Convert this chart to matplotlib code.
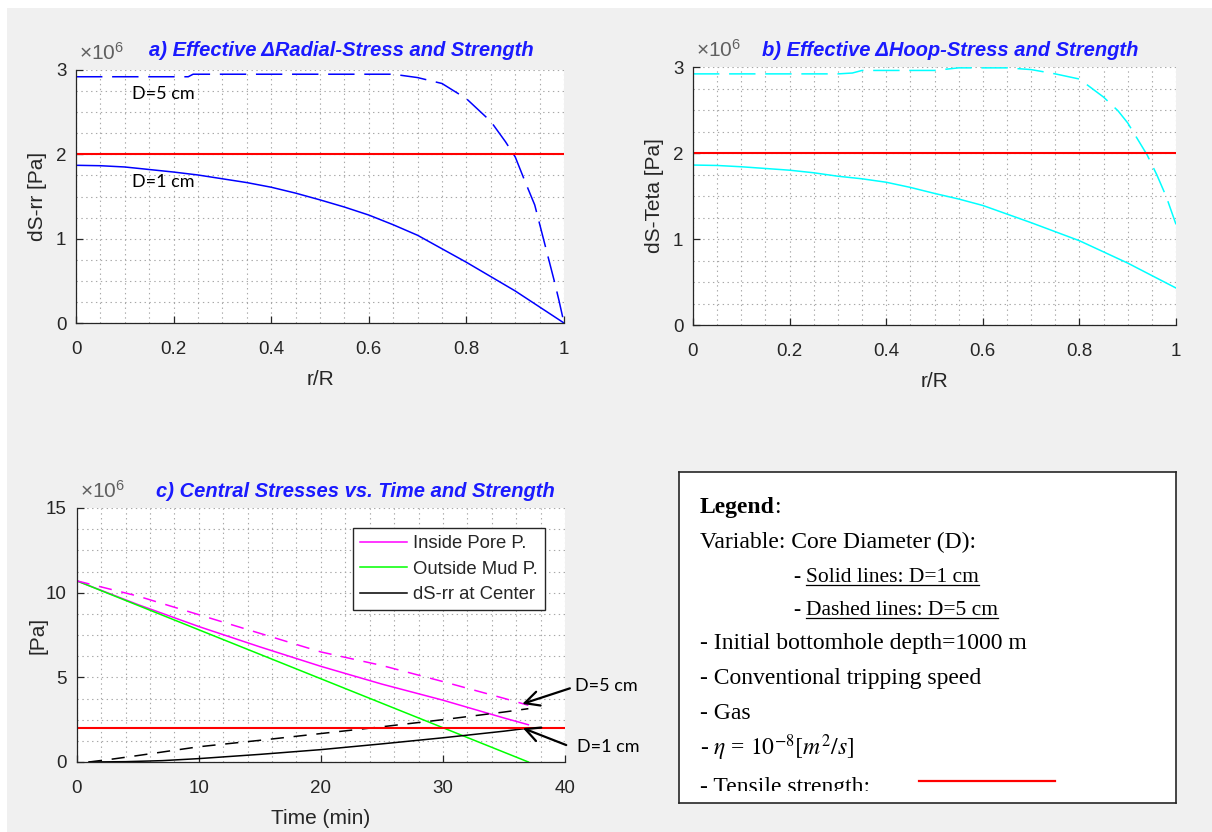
"""Core stress plots: radial/hoop effective stress vs r/R and central stresses vs time."""

import matplotlib
matplotlib.use("Agg")
import matplotlib.pyplot as plt
from matplotlib.lines import Line2D
from matplotlib.patches import Rectangle
from matplotlib.ticker import MultipleLocator

plt.rcParams["font.family"] = ["Liberation Sans", "DejaVu Sans"]
plt.rcParams["mathtext.fontset"] = "custom"
plt.rcParams["mathtext.rm"] = "Liberation Sans"
plt.rcParams["mathtext.it"] = "Liberation Sans:italic"
plt.rcParams["lines.scale_dashes"] = False

# --- data (stress values in units of 1e6 Pa) ---
r_1cm_rr = [0.0, 0.05, 0.1, 0.15, 0.2, 0.25, 0.3, 0.35, 0.4, 0.45, 0.5, 0.55,
            0.6, 0.65, 0.7, 0.75, 0.8, 0.85, 0.9, 0.95, 1.0]
srr_1cm = [1.87, 1.865, 1.85, 1.82, 1.79, 1.755, 1.71, 1.665, 1.61, 1.54, 1.46, 1.375,
           1.28, 1.165, 1.04, 0.88, 0.72, 0.55, 0.38, 0.19, 0.0]
r_5cm_rr = [0.0, 0.1, 0.2, 0.23, 0.24, 0.4, 0.5, 0.6, 0.65, 0.7, 0.75, 0.8,
            0.85, 0.88, 0.9, 0.92, 0.94, 0.96, 0.98, 0.99, 1.0]
srr_5cm = [2.92, 2.92, 2.92, 2.92, 2.95, 2.95, 2.95, 2.95, 2.95, 2.91, 2.84, 2.66,
           2.39, 2.15, 1.97, 1.68, 1.40, 0.95, 0.50, 0.26, 0.0]

r_1cm_tt = [0.0, 0.05, 0.1, 0.15, 0.2, 0.25, 0.3, 0.35, 0.4, 0.45, 0.5, 0.55,
            0.6, 0.65, 0.7, 0.75, 0.8, 0.85, 0.9, 0.95, 1.0]
stt_1cm = [1.86, 1.855, 1.84, 1.82, 1.80, 1.77, 1.73, 1.70, 1.66, 1.60, 1.53, 1.465,
           1.39, 1.29, 1.19, 1.085, 0.98, 0.85, 0.72, 0.575, 0.43]
r_5cm_tt = [0.0, 0.1, 0.2, 0.3, 0.33, 0.35, 0.5, 0.55, 0.65, 0.7, 0.75, 0.8,
            0.85, 0.88, 0.9, 0.94, 0.96, 0.98, 1.0]
stt_5cm = [2.92, 2.92, 2.92, 2.92, 2.93, 2.96, 2.96, 2.99, 2.99, 2.97, 2.92, 2.86,
           2.65, 2.49, 2.35, 1.98, 1.75, 1.49, 1.17]

tensile_strength = 2.0

t_pore = [0, 5, 10, 15, 20, 25, 30, 35, 37]
pore_1cm = [10.7, 9.3, 8.0, 6.8, 5.65, 4.6, 3.65, 2.6, 2.2]
pore_5cm = [10.7, 9.8, 8.7, 7.6, 6.5, 5.7, 4.75, 3.76, 3.35]
t_mud = [0, 37]
mud = [10.7, 0.0]
t_center_1cm = [1, 4, 7, 10, 15, 20, 25, 30, 35, 37]
center_1cm = [0.0, 0.02, 0.08, 0.2, 0.45, 0.73, 1.07, 1.43, 1.82, 2.0]
t_center_5cm = [1, 3, 5, 10, 15, 20, 25, 30, 35, 37]
center_5cm = [0.0, 0.18, 0.38, 0.9, 1.28, 1.68, 2.08, 2.5, 2.95, 3.15]

W, H = 1212, 832
AX_GRAY = "#262626"
GRID_GRAY = "#a8a8a8"
TITLE_BLUE = "#1a1aff"
DASH_R = (0, (19, 7))
DASH_T = (0, (9.5, 7))


def px_rect(left, top, right, bottom):
    return [left / W, (H - bottom) / H, (right - left) / W, (bottom - top) / H]


def style_axes(ax, xminor, yminor, height_px):
    for side in ("top", "right"):
        ax.spines[side].set_visible(False)
    for side in ("left", "bottom"):
        ax.spines[side].set_color(AX_GRAY)
        ax.spines[side].set_linewidth(0.9)
    ax.xaxis.set_minor_locator(MultipleLocator(xminor))
    ax.yaxis.set_minor_locator(MultipleLocator(yminor))
    ax.grid(True, which="both", linestyle=(0, (1, 2.5)), color=GRID_GRAY, linewidth=0.8)
    ax.set_axisbelow(True)
    ax.tick_params(which="major", direction="in", length=5, width=0.9,
                   colors=AX_GRAY, labelsize=13.5)
    ax.tick_params(axis="x", which="major", pad=13)
    ax.tick_params(axis="y", which="major", pad=7)
    ax.tick_params(which="minor", length=0)
    ax.text(0.006, 1 + 10 / height_px, r"$\times10^{6}$", transform=ax.transAxes,
            fontsize=15, color="#606060", ha="left", va="baseline")


def label_axes(ax, xlabel, ylabel, height_px, width_px):
    ax.set_xlabel(xlabel, fontsize=15, color=AX_GRAY)
    ax.set_ylabel(ylabel, fontsize=15, color=AX_GRAY)
    ax.xaxis.set_label_coords(0.5, -47 / height_px)
    ax.yaxis.set_label_coords(-29 / width_px, 0.5)


def set_title(ax, text, x, y):
    ax.text(x, y, text, transform=ax.transAxes, ha="center", va="center",
            fontsize=14.5, fontweight="bold", fontstyle="italic", color=TITLE_BLUE)


fig = plt.figure(figsize=(W / 100, H / 100), dpi=100, facecolor="white")
fig.patches.append(Rectangle((7 / W, 0), 1, 1 - 8 / H, transform=fig.transFigure,
                             facecolor="#f0f0f0", edgecolor="none", zorder=-10))

# a) radial stress
ax_a = fig.add_axes(px_rect(76, 70, 564, 323))
ax_a.plot(r_1cm_rr, srr_1cm, color="blue", linewidth=1.1)
ax_a.plot(r_5cm_rr, srr_5cm, color="blue", linewidth=1.1, linestyle=DASH_R)
ax_a.axhline(tensile_strength, color="red", linewidth=1.5)
ax_a.set_xlim(0, 1)
ax_a.set_ylim(0, 3)
ax_a.set_xticks([0, 0.2, 0.4, 0.6, 0.8, 1])
ax_a.set_xticklabels(["0", "0.2", "0.4", "0.6", "0.8", "1"])
ax_a.set_yticks([0, 1, 2, 3])
style_axes(ax_a, 0.05, 0.25, 253)
label_axes(ax_a, "r/R", "dS-rr [Pa]", 253, 488)
set_title(ax_a, "a) Effective ΔRadial-Stress and Strength", 0.543, 1 + 20 / 253)
ax_a.text(0.115, 2.71, "D=5 cm", fontsize=13, family="Lato", va="center", ha="left")
ax_a.text(0.115, 1.67, "D=1 cm", fontsize=13, family="Lato", va="center", ha="left")

# b) hoop stress
ax_b = fig.add_axes(px_rect(693, 67, 1176, 325))
ax_b.plot(r_1cm_tt, stt_1cm, color="cyan", linewidth=1.1)
ax_b.plot(r_5cm_tt, stt_5cm, color="cyan", linewidth=1.1, linestyle=DASH_R)
ax_b.axhline(tensile_strength, color="red", linewidth=1.5)
ax_b.set_xlim(0, 1)
ax_b.set_ylim(0, 3)
ax_b.set_xticks([0, 0.2, 0.4, 0.6, 0.8, 1])
ax_b.set_xticklabels(["0", "0.2", "0.4", "0.6", "0.8", "1"])
ax_b.set_yticks([0, 1, 2, 3])
style_axes(ax_b, 0.05, 0.25, 258)
label_axes(ax_b, "r/R", "dS-Teta [Pa]", 258, 483)
set_title(ax_b, "b) Effective ΔHoop-Stress and Strength", 0.532, 1 + 17 / 258)

# c) central stresses vs time
ax_c = fig.add_axes(px_rect(76.7, 508, 565, 762))
ax_c.plot(t_pore, pore_1cm, color="magenta", linewidth=1.1, label="Inside Pore P.")
ax_c.plot(t_mud, mud, color="#00ff00", linewidth=1.1, label="Outside Mud P.")
ax_c.plot(t_center_1cm, center_1cm, color="black", linewidth=1.1, label="dS-rr at Center")
ax_c.plot(t_pore, pore_5cm, color="magenta", linewidth=1.1, linestyle=DASH_T)
ax_c.plot(t_center_5cm, center_5cm, color="black", linewidth=1.1, linestyle=DASH_T)
ax_c.axhline(tensile_strength, color="red", linewidth=1.5)
ax_c.set_xlim(0, 40)
ax_c.set_ylim(0, 15)
ax_c.set_xticks([0, 10, 20, 30, 40])
ax_c.set_yticks([0, 5, 10, 15])
style_axes(ax_c, 2, 1.25, 254)
label_axes(ax_c, "Time (min)", "[Pa]", 254, 488.3)
set_title(ax_c, "c) Central Stresses vs. Time and Strength", 0.57, 1 + 16 / 254)
leg = ax_c.legend(loc="upper left", bbox_to_anchor=(0.566, 0.921), borderaxespad=0,
                  fontsize=13.3, handlelength=2.5, handletextpad=0.32,
                  labelspacing=0.45, borderpad=0.4, fancybox=False, framealpha=1)
leg.get_frame().set_edgecolor(AX_GRAY)
leg.get_frame().set_linewidth(1.0)
for txt in leg.get_texts():
    txt.set_color(AX_GRAY)

arrow = dict(arrowstyle="->", color="black", lw=1.6, mutation_scale=26,
             shrinkA=0, shrinkB=0)
ax_c.annotate("", xy=(36.5, 3.43), xytext=(40.4, 4.35), arrowprops=arrow,
              annotation_clip=False)
ax_c.annotate("", xy=(36.55, 2.0), xytext=(40.1, 1.0), arrowprops=arrow,
              annotation_clip=False)
ax_c.text(40.8, 4.49, "D=5 cm", fontsize=13, family="Lato", va="center", ha="left")
ax_c.text(40.95, 0.89, "D=1 cm", fontsize=13, family="Lato", va="center", ha="left")

# legend / notes box
BOX_L, BOX_T, BOX_R, BOX_B = 679, 472, 1176, 803
ax_box = fig.add_axes(px_rect(BOX_L, BOX_T, BOX_R, BOX_B))
ax_box.set_xlim(BOX_L, BOX_R)
ax_box.set_ylim(BOX_B, BOX_T)
ax_box.set_xticks([])
ax_box.set_yticks([])
for sp in ax_box.spines.values():
    sp.set_color(AX_GRAY)
    sp.set_linewidth(1.2)
    sp.set_zorder(10)

serif = ["Liberation Serif", "DejaVu Serif"]
note_kw = dict(family=serif, fontsize=17, color="black", va="baseline", ha="left")
sub_kw = dict(family=serif, fontsize=15.5, color="black", va="baseline", ha="left")

t_leg = ax_box.text(700, 513, "Legend", fontweight="bold", **note_kw)
ax_box.text(700, 548, "Variable: Core Diameter (D):", **note_kw)
ax_box.text(794, 582, "- ", **sub_kw)
t_solid = ax_box.text(806, 582, "Solid lines: D=1 cm", **sub_kw)
ax_box.text(794, 615, "- ", **sub_kw)
t_dash = ax_box.text(806, 615, "Dashed lines: D=5 cm", **sub_kw)
ax_box.text(700, 649, "- Initial bottomhole depth=1000 m", **note_kw)
ax_box.text(700, 684, "- Conventional tripping speed", **note_kw)
ax_box.text(700, 719, "- Gas", **note_kw)
ax_box.text(700, 755, r"- $\eta$ = $10^{-8}[m^2/s]$", math_fontfamily="stix", **note_kw)
ax_box.text(700, 793, "- Tensile strength:", **note_kw)
ax_box.plot([919, 1055], [781, 781], color="red", linewidth=1.6)
# the notes run past the lower edge of the box and get cut there
ax_box.add_patch(Rectangle((BOX_L, 791.5), BOX_R - BOX_L, BOX_B - 791.5,
                           facecolor="white", edgecolor="none", zorder=5))

fig.canvas.draw()
renderer = fig.canvas.get_renderer()
bb = t_leg.get_window_extent(renderer)
x_colon = ax_box.transData.inverted().transform((bb.x1, bb.y0))[0]
ax_box.text(x_colon - 1, 513, ":", **note_kw)
for t, y in ((t_solid, 582), (t_dash, 615)):
    bb = t.get_window_extent(renderer)
    x0 = ax_box.transData.inverted().transform((bb.x0, 0))[0]
    x1 = ax_box.transData.inverted().transform((bb.x1, 0))[0]
    ax_box.add_line(Line2D([x0, x1], [y + 2.5, y + 2.5], color="black", linewidth=0.9))

fig.savefig("out.png", dpi=100, facecolor=fig.get_facecolor())
